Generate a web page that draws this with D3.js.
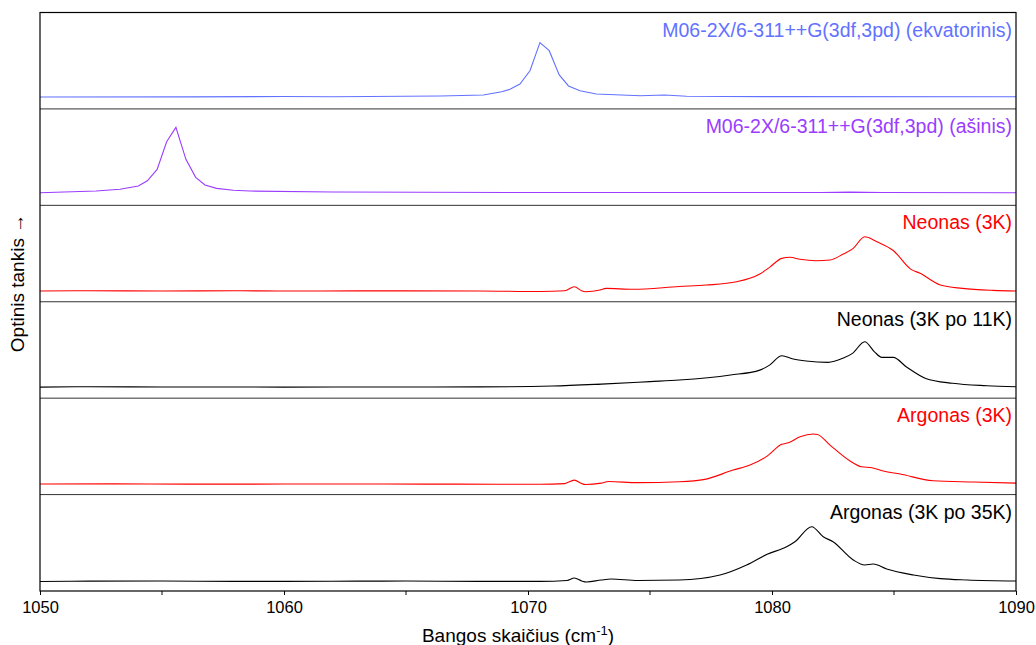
<!DOCTYPE html>
<html>
<head>
<meta charset="utf-8">
<script src="https://cdn.jsdelivr.net/npm/d3@7"></script>
<style>
body { margin: 0; background: #fff; }
svg text { font-family: "Liberation Sans", Arial, sans-serif; }
</style>
</head>
<body>
<svg width="1036" height="645"></svg>
<script>
// wavenumber ticks
var xTicks = [1050, 1060, 1070, 1080, 1090];
var xMinorTicks = [1055, 1065, 1075, 1085];

// panel labels, top to bottom
var labels = ['M06-2X/6-311++G(3df,3pd) (ekvatorinis)', 'M06-2X/6-311++G(3df,3pd) (ašinis)',
    'Neonas (3K)', 'Neonas (3K po 11K)', 'Argonas (3K)', 'Argonas (3K po 35K)'];
var colors = ['#6272ff', '#9a3dff', '#ff0000', '#000000', '#ff0000', '#000000'];
var computed = [true, true, false, false, false, false];

// spectra, [wavenumber, relative optical density]
var ekvatorinis = [[1050,0.123],[1056,0.125],[1060,0.129],[1062,0.126],[1066.4,0.134],[1068.17,0.144],[1068.92,0.178],
    [1069.26,0.203],[1069.67,0.258],[1070.08,0.396],[1070.49,0.687],[1070.87,0.604],[1071.28,0.352],[1071.66,0.238],
    [1072.13,0.189],[1072.8,0.155],[1074.6,0.137],[1075.6,0.144],[1076.5,0.131],[1080,0.127],[1090,0.126]];
var asinis = [[1050,0.131],[1052.3,0.148],[1053.28,0.166],[1054.03,0.2],[1054.4,0.255],[1054.8,0.373],[1055.19,0.66],
    [1055.57,0.809],[1055.98,0.477],[1056.38,0.29],[1056.76,0.211],[1057.24,0.176],[1057.92,0.156],[1058.6,0.148],
    [1062,0.138],[1070,0.133],[1082,0.133],[1083.2,0.137],[1084.5,0.133],[1090,0.131]];
var neon3 = [[1050,0.111],[1052,0.114],[1055,0.112],[1058,0.114],[1060,0.111],[1063,0.113],[1065,0.113],[1068,0.112],
    [1070.5,0.106],[1071.5,0.114],[1071.9,0.156],[1072.2,0.114],[1072.35,0.104],[1072.95,0.121],[1073.2,0.139],
    [1074.3,0.129],[1076.2,0.158],[1077.3,0.173],[1078.55,0.207],[1079.5,0.287],[1079.9,0.357],[1080.4,0.45],
    [1080.74,0.461],[1081.15,0.44],[1081.8,0.425],[1082.38,0.433],[1082.92,0.495],[1083.33,0.554],[1083.8,0.674],
    [1084.3,0.622],[1084.98,0.529],[1085.7,0.336],[1086.07,0.295],[1086.9,0.173],[1087.8,0.139],[1089.07,0.118],[1090,0.111]];
var neon11 = [[1050,0.115],[1052,0.118],[1055,0.116],[1060,0.115],[1064,0.116],[1068,0.117],[1071,0.126],[1073,0.146],
    [1075,0.172],[1076.2,0.188],[1078.3,0.24],[1079.5,0.291],[1079.9,0.343],[1080.4,0.44],[1080.87,0.406],[1081.4,0.385],
    [1082.3,0.371],[1082.9,0.413],[1083.3,0.465],[1083.8,0.585],[1084.2,0.481],[1084.5,0.423],[1084.97,0.423],
    [1085.5,0.326],[1086.3,0.205],[1087.4,0.154],[1088.8,0.129],[1090,0.118]];
var argon3 = [[1050,0.109],[1053,0.111],[1056,0.108],[1060,0.109],[1064,0.11],[1067,0.108],[1070.5,0.107],
    [1071.5,0.114],[1071.9,0.15],[1072.2,0.114],[1072.35,0.104],[1073,0.119],[1073.3,0.135],[1074.5,0.124],
    [1076.2,0.133],[1077.25,0.158],[1078.4,0.254],[1079.1,0.306],[1079.8,0.399],[1080.4,0.521],[1080.67,0.537],
    [1081.15,0.6],[1081.7,0.628],[1081.86,0.624],[1082.38,0.513],[1083.2,0.348],[1083.67,0.288],[1084.1,0.278],
    [1084.56,0.244],[1085.25,0.213],[1086.6,0.143],[1088.25,0.13],[1090,0.119]];
var argon35 = [[1050,0.099],[1052,0.102],[1055,0.103],[1058,0.1],[1060,0.1],[1063,0.102],[1065,0.103],[1068,0.1],
    [1070.5,0.1],[1071.6,0.109],[1071.9,0.135],[1072.2,0.104],[1072.4,0.093],[1073,0.114],[1073.4,0.124],
    [1074.5,0.109],[1076.2,0.114],[1077.87,0.166],[1078.96,0.27],[1079.8,0.381],[1080.6,0.459],[1080.94,0.511],
    [1081.63,0.667],[1082.1,0.563],[1082.5,0.511],[1083.33,0.322],[1083.8,0.27],[1084.15,0.28],[1084.7,0.228],
    [1085.8,0.166],[1086.9,0.128],[1088,0.114],[1090,0.104]];
var spectra = [ekvatorinis, asinis, neon3, neon11, argon3, argon35];

var svg = d3.select('svg');
var padding = {t: 12.5, r: 20, b: 54, l: 40};
var plotW = 1036 - padding.l - padding.r;
var plotH = 645 - padding.t - padding.b;
var panelH = plotH / spectra.length;

var xScale = d3.scaleLinear().domain([1050, 1090]).range([padding.l, padding.l + plotW]);

spectra.forEach(function(data, i) {
    var top = padding.t + i * panelH;
    var yScale = d3.scaleLinear().domain([0, 1]).range([top + panelH, top]);
    var line = d3.line()
        .x(function(d) { return xScale(d[0]); })
        .y(function(d) { return yScale(d[1]); })
        .curve(computed[i] ? d3.curveLinear : d3.curveMonotoneX);
    svg.append('path')
        .datum(data)
        .attr('d', line)
        .attr('fill', 'none')
        .attr('stroke', colors[i])
        .attr('stroke-width', 1.1);
    svg.append('text')
        .attr('x', padding.l + plotW - 4)
        .attr('y', top + 24)
        .attr('text-anchor', 'end')
        .attr('font-size', 19.5)
        .attr('fill', colors[i])
        .text(labels[i]);
    //separator
    if (i > 0) {
        svg.append('line')
            .attr('x1', padding.l).attr('x2', padding.l + plotW)
            .attr('y1', top).attr('y2', top)
            .attr('stroke', '#333').attr('stroke-width', 1);
    }
});

// frame
svg.append('rect')
    .attr('x', padding.l).attr('y', padding.t)
    .attr('width', plotW).attr('height', plotH)
    .attr('fill', 'none').attr('stroke', '#000').attr('stroke-width', 1.2);

var xAxis = d3.axisBottom(xScale).tickValues(xTicks).tickFormat(d3.format('d')).tickSize(4).tickPadding(6);
var gx = svg.append('g')
    .attr('transform', 'translate(0,' + (padding.t + plotH) + ')')
    .call(xAxis);
gx.select('.domain').remove();
gx.selectAll('text').attr('font-size', 16.5).attr('fill', '#000').attr('font-family', '"Liberation Sans", Arial, sans-serif');
gx.selectAll('.tick line').attr('stroke', '#000');
svg.append('g')
    .attr('transform', 'translate(0,' + (padding.t + plotH) + ')')
    .selectAll('line').data(xMinorTicks).enter()
    .append('line')
    .attr('x1', function(d) { return xScale(d); })
    .attr('x2', function(d) { return xScale(d); })
    .attr('y1', 0).attr('y2', 4)
    .attr('stroke', '#000');

// axis titles
var xt = svg.append('text')
    .attr('x', 518)
    .attr('y', 642)
    .attr('text-anchor', 'middle')
    .attr('font-size', 19)
    .text('Bangos skaičius (cm');
xt.append('tspan').attr('baseline-shift', 'super').attr('font-size', 13).text('-1');
xt.append('tspan').text(')');

svg.append('text')
    .attr('transform', 'translate(24,283) rotate(-90)')
    .attr('text-anchor', 'middle')
    .attr('font-size', 19)
    .text('Optinis tankis →');
</script>
</body>
</html>
